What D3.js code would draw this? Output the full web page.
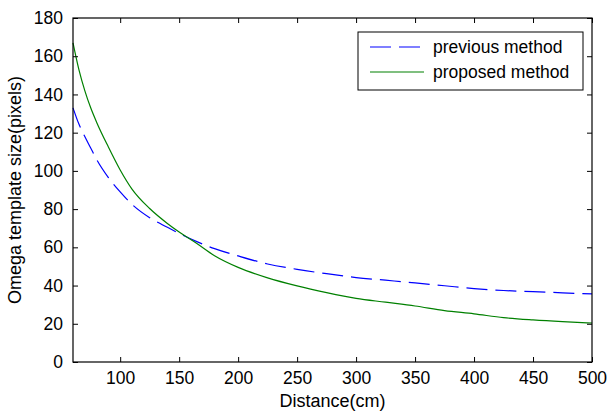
<!DOCTYPE html>
<html>

<head>
  <meta charset="utf-8">
  <title>Omega template size</title>
  <script src="https://cdn.jsdelivr.net/npm/d3@7/dist/d3.min.js"></script>
</head>
<style>
  html,
  body {
    margin: 0;
    padding: 0;
    background: white;
    overflow: hidden
  }

  svg {
    font-family: "Liberation Sans", Arial, sans-serif;
  }
</style>

<body>
  <div id="chart"></div>
</body>
<script>
  // values
  const distance = [60, 65, 70, 75, 80, 90, 100, 110, 125, 140, 150, 165, 180, 200, 225, 250, 275, 300, 325, 350, 375, 400, 425, 450, 475, 500]
  const previousMethod = [133, 124.5, 118, 112, 106, 96.5, 89, 82.5, 75.5, 70.5, 67.3, 63, 59.3, 55.5, 51.3, 48.5, 46.2, 44.2, 42.8, 41.4, 39.9, 38.4, 37.4, 36.8, 36.2, 35.6]
  const proposedMethod = [167, 153, 142, 133, 125.5, 112.5, 100.5, 90.5, 80.3, 72.5, 68, 62, 55.6, 49.5, 44, 39.8, 36.3, 33.3, 31.3, 29.3, 26.9, 25.2, 23.2, 22, 21.1, 20.4]
  const xTicks = [100, 150, 200, 250, 300, 350, 400, 450, 500]
  const yTicks = [0, 20, 40, 60, 80, 100, 120, 140, 160, 180]
  const seriesNames = ['previous method', 'proposed method']

  const W = 609, H = 414
  const plot = { left: 73, right: 592, top: 18, bottom: 362 }
  const tickLen = 5

  const svg = d3.select('#chart')
    .append('svg')
    .attr('width', W)
    .attr('height', H)

  const x = d3.scaleLinear().domain([60, 500]).range([plot.left, plot.right])
  const y = d3.scaleLinear().domain([0, 180]).range([plot.bottom, plot.top])

  const series = [
    { name: seriesNames[0], values: previousMethod, color: '#0000ff', dash: '21,8' },
    { name: seriesNames[1], values: proposedMethod, color: '#008000', dash: null }
  ]

  const line = d3.line()
    .x((d, i) => x(distance[i]))
    .y(d => y(d))
    .curve(d3.curveMonotoneX)

  svg.append('g')
    .selectAll('path')
    .data(series)
    .enter().append('path')
    .attr('d', d => line(d.values))
    .attr('fill', 'none')
    .attr('stroke', d => d.color)
    .attr('stroke-width', 1.2)
    .attr('stroke-dasharray', d => d.dash)

  // axes, matlab style: ticks inside on all four sides
  const axisStyle = g => {
    g.select('.domain').remove()
    g.selectAll('line').attr('stroke', '#000').attr('stroke-width', 1)
    g.selectAll('text').attr('fill', '#000').style('font-size', '17.5px')
  }

  svg.append('g')
    .attr('transform', `translate(0,${plot.bottom})`)
    .call(d3.axisBottom(x).tickValues(xTicks).tickSizeInner(-tickLen).tickSizeOuter(0).tickPadding(10))
    .call(axisStyle)

  svg.append('g')
    .attr('transform', `translate(0,${plot.top})`)
    .call(d3.axisTop(x).tickValues(xTicks).tickSizeInner(-tickLen).tickSizeOuter(0).tickFormat(''))
    .call(axisStyle)

  svg.append('g')
    .attr('transform', `translate(${plot.left},0)`)
    .call(d3.axisLeft(y).tickValues(yTicks).tickSizeInner(-tickLen).tickSizeOuter(0).tickPadding(10))
    .call(axisStyle)

  svg.append('g')
    .attr('transform', `translate(${plot.right},0)`)
    .call(d3.axisRight(y).tickValues(yTicks).tickSizeInner(-tickLen).tickSizeOuter(0).tickFormat(''))
    .call(axisStyle)

  svg.append('rect')
    .attr('x', plot.left).attr('y', plot.top)
    .attr('width', plot.right - plot.left).attr('height', plot.bottom - plot.top)
    .attr('fill', 'none')
    .attr('stroke', '#000')
    .attr('stroke-width', 1.2)

  svg.append('text')
    .attr('x', (plot.left + plot.right) / 2)
    .attr('y', 407)
    .attr('text-anchor', 'middle')
    .style('font-size', '18px')
    .text('Distance(cm)')

  svg.append('text')
    .attr('transform', `translate(21,${(plot.top + plot.bottom) / 2}) rotate(-90)`)
    .attr('text-anchor', 'middle')
    .style('font-size', '18px')
    .text('Omega template size(pixels)')

  // legend
  const legend = svg.append('g').attr('transform', 'translate(358,32)')
  legend.append('rect')
    .attr('width', 225).attr('height', 58)
    .attr('fill', 'white')
    .attr('stroke', '#000')
    .attr('stroke-width', 1)

  const item = legend.selectAll('g.item')
    .data(series)
    .enter().append('g')
    .attr('class', 'item')
    .attr('transform', (d, i) => `translate(0,${15 + i * 25})`)

  item.append('line')
    .attr('x1', 12).attr('x2', 66)
    .attr('stroke', d => d.color)
    .attr('stroke-width', 1.2)
    .attr('stroke-dasharray', d => d.dash)

  item.append('text')
    .attr('x', 75)
    .attr('dy', '0.35em')
    .style('font-size', '17.5px')
    .text(d => d.name)
</script>

</html>
